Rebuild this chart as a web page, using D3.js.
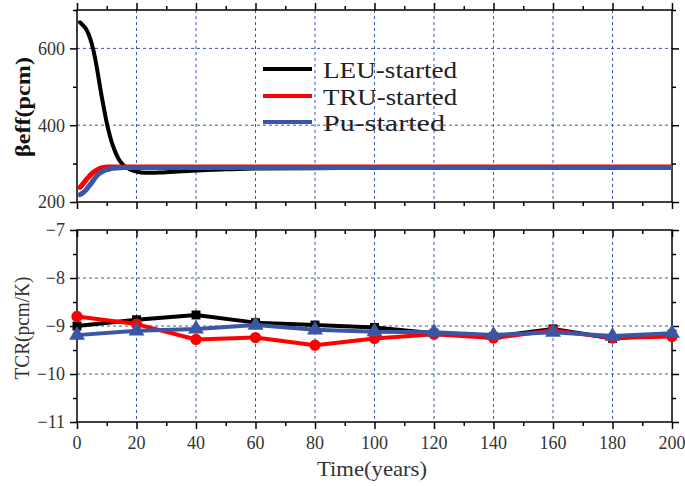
<!DOCTYPE html>
<html><head><meta charset="utf-8">
<script src="https://cdn.jsdelivr.net/npm/d3@7"></script>
<style>body{margin:0;background:#fff}svg{display:block}
.serif{font-family:"Liberation Serif","DejaVu Serif","Times New Roman",serif}
.mono{font-family:"Liberation Serif","DejaVu Serif",serif}
</style>
</head><body>
<svg id="c" width="685" height="486"></svg>
<script>
// ---- data ----
const seriesNames = ["LEU-started", "TRU-started", "Pu-started"];
const timeTop = [1,2,3,4,5,6,7,8,9,10,11,12,13,14,15,16,18,20,23,28,35,42,50,60,80,100,120,140,160,180,200];
const betaLEU = [668,660,651,635,611,578,535,488,446,406,374,348,328,312,301,293,284,279,276,277,280,283,285,287,288,289,289,290,290,290,290];
const betaTRU = [238,247,257,266,274,280,285,288,290,291,291,291,291,291,291,291,291,291,291,291,291,291,291,291,291,291,291,291,291,291,291];
const betaPu  = [219,224,231,241,251,262,271,277,281,284,286,287.5,288.5,289,289.5,290,290,290,290,290,290,290,290,290,290,290,290,290,290,290,290];
const timeTCR = [0,20,40,60,80,100,120,140,160,180,200];
const tcrLEU = [-9.00,-8.87,-8.77,-8.93,-8.98,-9.03,-9.15,-9.22,-9.06,-9.26,-9.17];
const tcrTRU = [-8.80,-8.96,-9.28,-9.24,-9.40,-9.26,-9.17,-9.25,-9.09,-9.25,-9.22];
const tcrPu  = [-9.19,-9.10,-9.06,-8.98,-9.08,-9.12,-9.13,-9.19,-9.13,-9.21,-9.15];
const xTicks = [0,20,40,60,80,100,120,140,160,180,200];
const yTopTicks = [200,400,600];
const yBotTicks = [-7,-8,-9,-10,-11];

const colors = ["#000000", "#ff0000", "#3a56a5"];
const gridColor = "#3a56b0";
const svg = d3.select("#c");
const x = d3.scaleLinear().domain([0,200]).range([77,672]);
const yT = d3.scaleLinear().domain([200,700]).range([202,10]);
const yB = d3.scaleLinear().domain([-11,-7]).range([422,230]);

function panel(y, yMajor, yMinor, yGrid, topInward) {
  const [y0,y1] = y.range();
  const g = svg.append("g");
  g.selectAll(".gx").data(xTicks.filter(d=>d>0&&d<200)).join("line")
    .attr("x1",d=>x(d)).attr("x2",d=>x(d)).attr("y1",y1).attr("y2",y0)
    .attr("stroke",gridColor).attr("stroke-width",1).attr("stroke-dasharray","3,3");
  g.selectAll(".gy").data(yGrid).join("line")
    .attr("x1",77).attr("x2",672).attr("y1",d=>y(d)).attr("y2",d=>y(d))
    .attr("stroke",gridColor).attr("stroke-width",1).attr("stroke-dasharray","3,3");
  const minorX = d3.range(10,200,20);
  const topAxis = topInward ? d3.axisBottom : d3.axisTop;
  const axes = [
    [d3.axisBottom(x).tickValues(xTicks).tickSize(7), `translate(0,${y0})`],
    [d3.axisBottom(x).tickValues(minorX).tickSize(4), `translate(0,${y0})`],
    [topAxis(x).tickValues(xTicks).tickSize(7), `translate(0,${y1})`],
    [topAxis(x).tickValues(minorX).tickSize(4), `translate(0,${y1})`],
    [d3.axisLeft(y).tickValues(yMajor).tickSize(7), `translate(77,0)`],
    [d3.axisLeft(y).tickValues(yMinor).tickSize(4), `translate(77,0)`],
    [d3.axisRight(y).tickValues(yMajor).tickSize(7), `translate(672,0)`],
    [d3.axisRight(y).tickValues(yMinor).tickSize(4), `translate(672,0)`]
  ];
  axes.forEach(([ax,tr])=>{
    const a = g.append("g").attr("transform",tr).call(ax.tickFormat(""));
    a.selectAll("line").attr("stroke","#000").attr("stroke-width",1.5);
    a.select(".domain").remove();
  });
  g.append("rect").attr("x",77).attr("y",y1).attr("width",595).attr("height",y0-y1)
    .attr("fill","none").attr("stroke","#000").attr("stroke-width",1.5);
  g.selectAll(".yl").data(yMajor).join("text").attr("class","serif")
    .attr("x",65).attr("y",d=>y(d)).attr("dy","0.35em").attr("text-anchor","end")
    .attr("font-size",18).attr("fill","#333")
    .text(d=>String(d).replace("-","\u2212"));
  return g;
}

panel(yT, yTopTicks, [300,500,700], [400,600], false);
panel(yB, yBotTicks, [-7.5,-8.5,-9.5,-10.5], [-8,-9,-10], true);

svg.selectAll(".xl").data(xTicks).join("text").attr("class","serif")
  .attr("x",d=>x(d)).attr("y",449).attr("text-anchor","middle")
  .attr("font-size",18).attr("fill","#333").text(d=>d);

svg.append("clipPath").attr("id","clipT").append("rect").attr("x",77).attr("y",10).attr("width",595).attr("height",192);
const lineT = d3.line().x((d,i)=>x(timeTop[i])).y(d=>yT(d)).curve(d3.curveMonotoneX);
[[betaLEU,4],[betaTRU,5],[betaPu,5]].forEach(([s,w],k)=>{
  svg.append("path").attr("clip-path","url(#clipT)").attr("d",lineT(s)).attr("fill","none")
    .attr("stroke",colors[k]).attr("stroke-width",w).attr("stroke-linejoin","round").attr("stroke-linecap","round");
});

const lineB = d3.line().x((d,i)=>x(timeTCR[i])).y(d=>yB(d));
const symbols = [d3.symbolSquare, d3.symbolCircle, d3.symbolTriangle];
const symSize = [80, 100, 110];
[tcrLEU,tcrTRU,tcrPu].forEach((s,k)=>{
  svg.append("path").attr("d",lineB(s)).attr("fill","none")
    .attr("stroke",colors[k]).attr("stroke-width",4).attr("stroke-linejoin","round");
  svg.selectAll(".m"+k).data(s).join("path")
    .attr("transform",(d,i)=>`translate(${x(timeTCR[i])},${yB(d)})`)
    .attr("d",d3.symbol().type(symbols[k]).size(symSize[k])())
    .attr("fill",colors[k]);
});

const legY = [69,96,122];
seriesNames.forEach((n,k)=>{
  svg.append("line").attr("x1",263).attr("x2",312).attr("y1",legY[k]).attr("y2",legY[k])
    .attr("stroke",colors[k]).attr("stroke-width",4);
  svg.append("text").attr("class","mono").attr("x",323).attr("y",legY[k]).attr("dy","0.36em")
    .attr("font-size",24).attr("fill","#222")
    .attr("textLength",n.length*12.2).attr("lengthAdjust","spacingAndGlyphs").text(n);
});

svg.append("text").attr("class","mono").attr("transform","translate(30,107) rotate(-90)").attr("text-anchor","middle")
  .attr("font-weight","bold").attr("font-size",22).attr("fill","#111")
  .attr("textLength",100).attr("lengthAdjust","spacingAndGlyphs").text("βeff(pcm)");
svg.append("text").attr("class","mono").attr("transform","translate(29,328) rotate(-90)").attr("text-anchor","middle")
  .attr("font-size",20).attr("fill","#333")
  .attr("textLength",103).attr("lengthAdjust","spacingAndGlyphs").text("TCR(pcm/K)");
svg.append("text").attr("class","mono").attr("x",372).attr("y",476).attr("text-anchor","middle")
  .attr("font-size",21).attr("fill","#333")
  .attr("textLength",110).attr("lengthAdjust","spacingAndGlyphs").text("Time(years)");
</script>
</body></html>
